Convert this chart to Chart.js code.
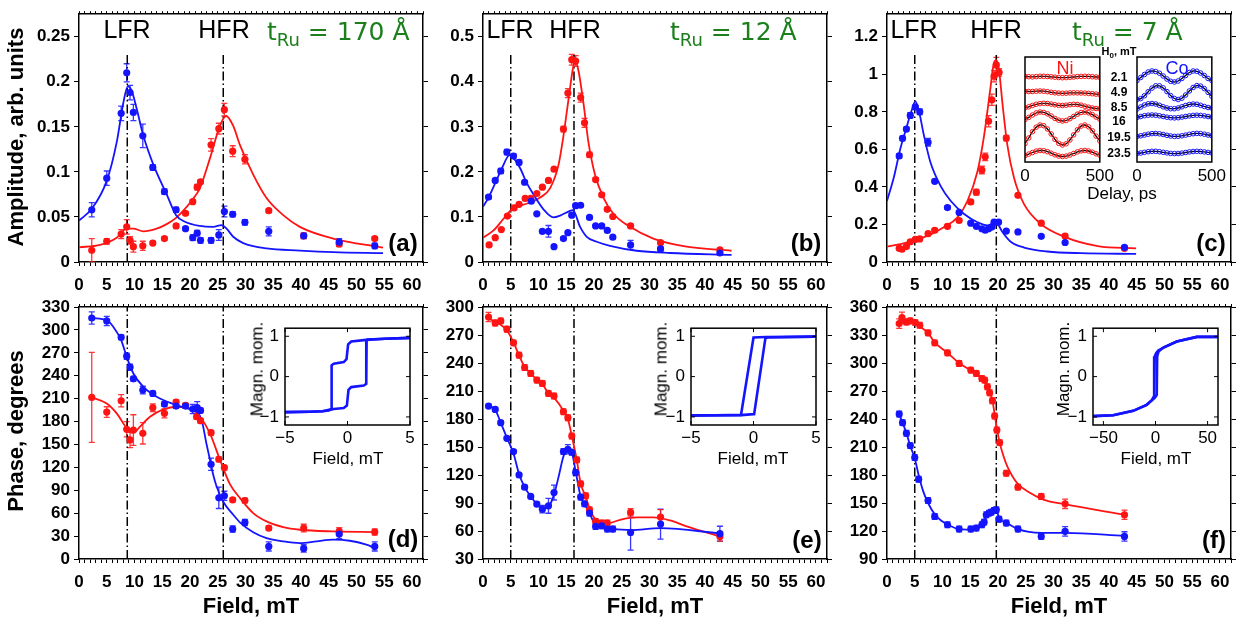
<!DOCTYPE html>
<html><head><meta charset="utf-8">
<script src="https://cdn.jsdelivr.net/npm/chart.js@4.4.1/dist/chart.umd.min.js"></script>
<style>
body{margin:0;background:#fff;width:1242px;height:625px;overflow:hidden;position:relative;font-family:'Liberation Sans',Arial,sans-serif}
canvas{position:absolute}
.t{position:absolute;white-space:nowrap;line-height:1;transform:translate(-50%,-50%);color:#000}
</style></head><body>
<script>
// ---------------- DATA ----------------
// Panel (a) t_Ru = 170 A : amplitude
const aField = [2.3,5.0,7.6,8.6,9.2,9.8,11.5,13.3,15.4,17.5,19.2,20.5,21.3,21.9,23.8,25.2,26.2,27.7,29.9,34.2,40.5,46.9,53.3];
const aCo = [0.058,0.093,0.165,0.210,0.188,0.166,0.140,0.105,0.078,0.058,0.037,0.027,0.032,0.024,0.024,0.030,0.056,0.053,0.044,0.034,0.029,0.022,0.018];
const aCoErr = [0.008,0.008,0.008,0.010,0.008,0.009,0.013,0.003,0.003,0.003,0.002,0.003,0.003,0.003,0.003,0.006,0.006,0.003,0.003,0.005,0.003,0.004,0.003];
const aNi = [0.013,0.023,0.031,0.039,0.024,0.017,0.018,0.021,0.026,0.040,0.054,0.067,0.083,0.089,0.130,0.148,0.169,0.123,0.114,0.057,0.029,0.020,0.026];
const aNiErr = [0.013,0.003,0.005,0.008,0.004,0.006,0.005,0.002,0.002,0.002,0.002,0.002,0.003,0.002,0.007,0.006,0.007,0.006,0.005,0.002,0.003,0.003,0.002];
const aFitCoX = [0,2.3,5.0,6.8,8.0,8.8,9.5,10.4,11.6,13.4,15.8,17.5,19.0,21.8,24.2,25.7,26.6,27.8,29.6,33.8,39.8,45.8,54.8];
const aFitCoY = [0.046,0.059,0.090,0.133,0.177,0.195,0.190,0.170,0.140,0.108,0.075,0.052,0.045,0.040,0.039,0.041,0.037,0.028,0.021,0.015,0.0127,0.011,0.0098];
const aFitNiX = [0,3.8,6.8,8.6,9.8,11.6,14.0,15.8,17.5,18.8,20.3,21.8,23.6,25.4,26.5,27.8,29.0,31.4,33.8,36.8,39.8,45.8,54.8];
const aFitNiY = [0.0163,0.019,0.027,0.037,0.037,0.034,0.037,0.042,0.049,0.057,0.068,0.082,0.115,0.151,0.162,0.151,0.130,0.097,0.071,0.052,0.039,0.026,0.016];
const aLines = [8.7, 26.0];

// Panel (b) t_Ru = 12 A : amplitude
const bCoField = [1.0,2.2,3.2,4.3,5.5,6.5,7.5,8.7,9.7,10.7,11.8,12.8,14.5,15.3,16.0,16.7,17.6,19.2,20.3,21.4,22.4,23.4,26.6,32.0,42.7];
const bCo = [0.144,0.181,0.202,0.244,0.235,0.221,0.177,0.135,0.107,0.068,0.068,0.034,0.052,0.065,0.104,0.125,0.126,0.099,0.080,0.080,0.070,0.055,0.038,0.029,0.020];
const bCoErr = [0.004,0.004,0.006,0.006,0.005,0.005,0.004,0.003,0.003,0.004,0.013,0.003,0.003,0.003,0.004,0.004,0.003,0.003,0.003,0.003,0.003,0.003,0.010,0.005,0.003];
const bNiField = [1.1,2.2,3.3,4.4,5.6,6.5,7.6,8.6,9.7,10.7,11.8,12.8,14.5,15.3,16.0,16.7,17.6,18.3,19.2,20.3,21.4,22.4,23.4,26.6,32.0,42.7];
const bNi = [0.038,0.054,0.072,0.102,0.120,0.128,0.141,0.141,0.152,0.166,0.181,0.206,0.295,0.375,0.449,0.446,0.365,0.309,0.238,0.183,0.149,0.117,0.101,0.080,0.043,0.027];
const bNiErr = [0.002,0.002,0.002,0.003,0.003,0.003,0.003,0.003,0.003,0.003,0.003,0.004,0.006,0.010,0.012,0.012,0.010,0.010,0.006,0.004,0.004,0.004,0.003,0.004,0.003,0.003];
const bFitCoX = [0,1.0,2.2,3.4,4.8,5.8,6.7,7.9,9.1,10.9,12.7,13.9,15.4,16.2,17.5,18.7,20.5,22.9,27.7,33.7,44.8];
const bFitCoY = [0.123,0.143,0.175,0.208,0.237,0.226,0.208,0.175,0.150,0.117,0.099,0.103,0.112,0.115,0.078,0.056,0.045,0.036,0.025,0.020,0.016];
const bFitNiX = [0,1.9,3.7,5.2,6.7,8.5,10.3,12.1,13.6,14.5,15.4,16.2,16.6,17.2,18.1,19.0,20.2,21.7,23.5,26.5,30.7,36.7,44.8];
const bFitNiY = [0.054,0.070,0.096,0.117,0.125,0.132,0.143,0.164,0.215,0.280,0.360,0.429,0.447,0.425,0.353,0.266,0.193,0.143,0.107,0.078,0.052,0.034,0.025];
const bLines = [5.0, 16.4];

// Panel (c) t_Ru = 7 A : amplitude
const cCoField = [2.2,2.8,3.5,4.2,5.1,5.9,7.4,8.6,10.9,13.0,15.1,16.1,17.1,17.7,18.3,18.9,19.3,20.1,21.5,23.6,27.8,32.1,42.8];
const cCo = [0.565,0.659,0.708,0.781,0.826,0.800,0.638,0.430,0.290,0.264,0.207,0.190,0.177,0.169,0.177,0.186,0.212,0.212,0.165,0.160,0.137,0.104,0.078];
const cCoErr = [0.012,0.012,0.010,0.015,0.010,0.015,0.020,0.010,0.010,0.008,0.008,0.006,0.006,0.006,0.006,0.006,0.010,0.008,0.006,0.006,0.006,0.006,0.006];
const cNiField = [2.2,2.7,3.5,4.2,5.1,5.9,7.4,8.6,10.9,13.0,15.1,16.1,17.1,17.7,18.3,18.9,19.3,19.7,20.2,21.5,23.6,27.8,32.1,42.8];
const cNi = [0.073,0.068,0.082,0.108,0.120,0.123,0.151,0.169,0.190,0.221,0.320,0.372,0.490,0.560,0.750,0.864,0.990,1.050,1.010,0.660,0.355,0.207,0.138,0.073];
const cNiErr = [0.010,0.010,0.008,0.008,0.008,0.008,0.010,0.010,0.010,0.010,0.010,0.015,0.020,0.020,0.030,0.030,0.030,0.040,0.020,0.015,0.010,0.010,0.010,0.008];
const cFitCoX = [0,1.2,2.4,3.6,4.5,5.1,5.7,6.6,7.8,9.7,11.5,13.9,16.3,18.1,19.3,19.9,20.8,22.3,24.7,28.9,35.0,44.9];
const cFitCoY = [0.325,0.447,0.603,0.725,0.812,0.856,0.812,0.682,0.534,0.403,0.325,0.256,0.212,0.195,0.207,0.203,0.160,0.108,0.077,0.056,0.047,0.043];
const cFitNiX = [0,3.0,5.4,7.8,10.3,12.7,14.5,16.3,17.5,18.6,19.3,19.7,20.2,20.8,21.7,22.9,24.7,27.7,32.0,38.0,44.9];
const cFitNiY = [0.082,0.099,0.120,0.146,0.186,0.238,0.325,0.482,0.673,0.917,1.064,1.075,1.020,0.847,0.621,0.447,0.308,0.203,0.134,0.085,0.073];
const cLines = [5.0, 19.7];

// Panel (d) t_Ru = 170 A : phase
const dCoField = [2.3,5.0,7.6,8.6,9.2,9.8,11.5,13.3,15.4,17.5,19.2,20.5,21.3,21.9,23.8,25.2,26.2,27.7,29.9,34.2,40.5,46.9,53.3];
const dCo = [315.6,311.7,290.4,265.6,251.2,236.0,221.2,216.8,202.9,200.3,200.3,196.3,198.1,194.6,124.1,80.1,82.7,39.2,47.9,16.5,13.9,32.7,16.5];
const dCoErr = [8,6,3,4,4,3,5,3,3,3,3,6,8,3,8,14,6,4,4,6,5,6,6];
const dNiField = [2.3,5.0,7.6,8.6,9.2,9.8,11.5,13.3,15.4,17.5,19.2,21.2,21.9,23.8,25.2,26.2,27.7,29.9,34.2,40.5,46.9,53.3];
const dNi = [211.6,192.4,207.2,169.8,155.9,168.9,164.6,198.1,190.7,205.5,201.1,186.3,181.1,165.4,130.6,119.7,77.5,76.6,40.5,40.5,36.1,35.3];
const dNiErr = [59,7,8,10,10,20,14,5,6,3,3,3,3,3,3,3,3,3,3,5,5,4];
const dFitCoX = [2.3,5.0,6.2,7.6,8.6,9.8,11.6,14.0,17.0,19.4,21.2,22.1,23.0,23.6,24.2,24.8,26.0,27.8,29.0,31.4,33.8,36.8,39.8,42.8,45.8,48.8,51.8,53.3];
const dFitCoY = [315.6,312.6,303.9,286.5,264.7,242.9,225.5,212.5,202.9,197.2,192.9,182.0,150.0,130.0,110.0,95.0,75.0,58.0,48.0,35.0,27.4,23.1,20.9,23.1,25.3,23.9,18.7,14.4];
const dFitNiX = [2.3,5.0,6.8,8.0,8.9,9.5,10.2,11.0,12.8,15.2,17.6,20.0,21.8,23.6,25.4,27.2,29.0,31.4,33.8,36.8,39.8,45.8,53.3];
const dFitNiY = [211.6,203.7,190.7,177.6,168.0,165.4,167.0,173.3,186.3,195.9,199.4,197.2,186.3,164.6,130.0,98.0,80.0,60.1,49.2,41.8,38.3,36.1,35.3];

// Panel (e) t_Ru = 12 A : phase
const eNiField = [1.0,2.2,3.2,4.3,5.5,6.5,7.5,8.6,9.7,10.7,11.8,12.8,14.5,15.3,16.0,16.9,17.6,18.5,19.2,20.3,21.4,22.4,26.6,32.0,42.7];
const eNi = [289.3,282.9,285.1,276.2,261.6,248.4,235.2,228.8,221.7,218.1,207.4,204.6,187.8,181.4,161.8,136.2,110.5,97.7,82.7,70.3,68.5,68.5,79.9,74.9,54.2];
const eNiErr = [5,3,3,3,3,3,3,3,3,3,3,3,3,3,3,3,3,3,3,3,3,3,4,8,5];
const eCoField = [1.0,2.2,3.2,4.3,5.5,6.5,7.5,8.6,9.7,10.7,11.8,12.8,14.5,15.3,16.0,16.7,17.6,18.3,19.2,20.3,21.4,22.4,23.4,26.6,32.0,42.7];
const eCo = [193.9,190.3,176.1,159.3,145.1,120.1,107.0,97.0,88.8,83.4,87.0,101.2,145.1,147.6,144.4,122.6,96.3,89.1,79.2,64.9,65.6,62.1,62.1,58.5,67.4,57.1];
const eCoErr = [2,2,2,2,2,2,2,2,2,4,8,8,3,5,3,3,3,3,3,3,3,3,3,19,16,8];
const eFitNiX = [1.0,2.2,3.2,4.3,5.5,6.5,7.5,8.6,9.7,10.7,11.8,12.8,14.5,15.3,16.0,16.9,17.6,18.5,19.2,20.3,21.4,22.4,24.7,27.7,30.7,33.7,36.7,42.7];
const eFitNiY = [288,284,281,275,262,248,236,229,222,217,208,203,189,180,162,136,111,97,84,72,68,68,72,74.5,74.5,71.3,65,54];
const eFitCoX = [1.0,2.2,3.2,4.3,5.5,6.5,7.5,8.6,9.7,10.7,11.8,12.8,13.7,14.5,15.3,16.0,16.7,17.6,18.3,19.2,20.3,21.4,22.4,23.4,26.6,32.0,42.7];
const eFitCoY = [194,190,176,160,143,121,107,97,89,84,86,99,120,140,147,144,124,97,89,79,66,64,62,62,61,63,57.5];

// Panel (f) t_Ru = 7 A : phase
const fNiField = [2.2,2.7,3.5,4.2,5.1,5.9,7.4,8.6,10.9,13.0,15.1,16.1,17.1,17.6,18.1,18.5,19.0,19.4,19.8,20.3,21.5,23.6,27.8,32.1,42.8];
const fNi = [342.2,348.6,344.0,345.1,343.3,340.4,332.3,321.6,310.9,299.5,292.4,288.8,283.4,281.6,274.5,268.1,259.6,243.2,228.2,214.7,181.9,167.0,157.0,149.1,137.4];
const fNiErr = [5,6,3,3,3,3,3,3,3,3,3,3,3,3,3,3,3,3,3,3,3,3,3,5,5];
const fCoField = [2.2,2.8,3.5,4.2,5.0,5.7,7.4,8.6,10.9,13.0,15.1,16.1,17.1,17.5,17.9,18.4,18.8,19.3,19.7,20.2,21.5,23.6,27.8,32.1,42.8];
const fCo = [245.3,236.1,224.7,211.5,198.7,175.5,152.7,135.6,126.7,122.1,122.1,123.1,126.7,129.5,137.4,139.2,140.2,142.0,142.7,132.7,128.5,122.1,114.2,119.6,114.2];
const fCoErr = [3,3,3,3,3,3,3,3,3,3,3,3,3,3,3,3,3,3,3,3,3,3,3,5,5];
const fFitNiX = [2.2,3.5,5.1,5.9,7.4,8.6,10.9,13.0,15.1,16.1,17.1,18.1,19.0,19.4,19.8,20.3,21.0,21.7,23.5,25.9,28.3,32.0,42.8];
const fFitNiY = [343,344,342,339,332,322,311,300,292,288,283,275,260,245,230,215,200,189,171,160.5,153.4,148.8,137.4];
const fFitCoX = [2.2,3.5,4.2,5.0,5.7,6.5,7.4,8.6,9.8,10.9,13.0,15.1,16.1,17.1,17.9,18.8,19.7,20.2,21.5,23.6,27.8,32.1,42.8];
const fFitCoY = [245,225,211,198,180,163,150,138,131,127,122,121.5,123,127,135,140,143,134,129,122,118,118,115];

// Hysteresis insets (field mT, normalised moment)
const hysDUpX = [-5,-3,-2,-1.5,-1.3,-1.27,-1.1,-0.3,-0.08,0.05,0.3,1.5,3,5];
const hysDUpY = [-0.88,-0.87,-0.86,-0.84,-0.81,0.28,0.32,0.36,0.43,0.80,0.87,0.91,0.94,0.96];
const hysDDnX = [5,3,1.6,1.53,1.5,1.3,0.3,0.08,-0.05,-0.3,-1.3,-2,-3,-5];
const hysDDnY = [0.96,0.94,0.92,0.90,-0.18,-0.22,-0.26,-0.33,-0.72,-0.78,-0.81,-0.86,-0.87,-0.88];
const hysEUpX = [-5,-1,0,0.05,0.95,1.1,5];
const hysEUpY = [-0.96,-0.955,-0.93,-0.93,0.95,0.97,0.99];
const hysEDnX = [5,1,0,-1.0,-5];
const hysEDnY = [0.99,0.98,0.97,-0.95,-0.97];
const hysFUpX = [-60,-40.7,-21.4,-8.5,-3.7,-0.5,1.2,1.6,2.9,7.6,20.4,39.7,60];
const hysFUpY = [-0.98,-0.96,-0.85,-0.70,-0.59,-0.52,-0.45,0.50,0.62,0.72,0.87,0.985,0.985];
const hysFDnX = [60,39.7,20.4,7.6,2.7,0.6,-0.8,-1.3,-3.7,-8.5,-21.4,-40.7,-60];
const hysFDnY = [0.985,0.985,0.87,0.72,0.65,0.58,0.50,-0.48,-0.59,-0.70,-0.85,-0.96,-0.98];

// Time traces inset in (c): delay (ps) and signal (arb.)
const traceTime = [0,25,50,75,100,125,150,175,200,225,250,275,300,325,350,375,400,425,450,475,500];
const traceFields = ['2.1','4.9','8.5','16','19.5','23.5'];
const niBase = [8.5,6.95,5.6,4.55,2.7,0.85];
const coBase = [8.55,6.95,5.55,4.55,2.7,0.95];
const ni21 = [0.05,0.03,0.01,0.04,0.07,0.07,0.05,0.02,-0.02,-0.05,-0.07,-0.06,-0.03,0.0,0.04,0.06,0.07,0.06,0.03,0.0,-0.03];
const ni49 = [0.12,0.10,0.10,0.13,0.15,0.13,0.08,0.02,-0.03,-0.06,-0.08,-0.07,-0.04,-0.03,-0.04,-0.05,-0.06,-0.09,-0.12,-0.16,-0.19];
const ni85 = [-0.18,-0.08,0.06,0.17,0.24,0.27,0.25,0.19,0.12,0.07,0.05,0.08,0.13,0.17,0.15,0.08,-0.02,-0.12,-0.20,-0.25,-0.28];
const ni16 = [-0.30,-0.09,0.15,0.35,0.45,0.41,0.27,0.05,-0.19,-0.37,-0.45,-0.40,-0.22,0.0,0.23,0.40,0.45,0.37,0.19,-0.05,-0.27];
const ni195 = [-0.85,-0.30,0.33,0.78,1.0,0.93,0.60,0.10,-0.43,-0.83,-1.0,-0.88,-0.50,0.01,0.52,0.89,1.0,0.82,0.42,-0.11,-0.60];
const ni235 = [-0.22,-0.06,0.10,0.24,0.30,0.28,0.18,0.03,-0.13,-0.25,-0.30,-0.26,-0.15,0.0,0.16,0.27,0.30,0.25,0.13,-0.03,-0.18];
const co21 = [-0.40,-0.10,0.20,0.45,0.55,0.50,0.33,0.05,-0.25,-0.48,-0.55,-0.45,-0.20,0.10,0.40,0.55,0.52,0.35,0.10,-0.20,-0.40];
const co49 = [-0.70,-0.61,-0.32,0.08,0.44,0.67,0.67,0.46,0.09,-0.31,-0.60,-0.70,-0.57,-0.25,0.15,0.50,0.69,0.64,0.39,0.01,-0.37];
const co85 = [-0.25,-0.05,0.15,0.27,0.30,0.25,0.12,-0.03,-0.15,-0.22,-0.22,-0.15,-0.03,0.10,0.20,0.25,0.22,0.12,0.0,-0.10,-0.15];
const co16 = [-0.10,0.0,0.08,0.13,0.15,0.13,0.07,0.0,-0.07,-0.12,-0.14,-0.12,-0.06,0.0,0.06,0.11,0.13,0.11,0.06,0.0,-0.06];
const co195 = [-0.15,-0.08,0.0,0.08,0.14,0.15,0.12,0.05,-0.03,-0.10,-0.14,-0.13,-0.08,-0.01,0.07,0.13,0.16,0.14,0.08,0.0,-0.07];
const co235 = [-0.10,-0.05,0.02,0.08,0.12,0.12,0.08,0.02,-0.04,-0.09,-0.11,-0.10,-0.06,0.0,0.06,0.10,0.12,0.10,0.06,0.01,-0.04];

// ---------------- DRAWING ----------------
const CO = '#1414ff', NI = '#ff1414', GREEN = '#1b7f1b';
const FAM = "'Liberation Sans', Arial, sans-serif";
Chart.defaults.font.family = FAM;
const tickFont = {family: FAM, size: 17, weight: 'bold'};
const insetFont = {family: FAM, size: 17, weight: 'normal'};

const errPlugin = {
  id: 'errbars',
  beforeDatasetsDraw(chart) {
    const ctx = chart.ctx, a = chart.chartArea;
    ctx.save();
    ctx.beginPath(); ctx.rect(a.left, a.top, a.right - a.left, a.bottom - a.top); ctx.clip();
    chart.data.datasets.forEach((ds, i) => {
      if (!ds.errors) return;
      const meta = chart.getDatasetMeta(i);
      const ys = chart.scales.y;
      ctx.strokeStyle = ds.pointBackgroundColor; ctx.globalAlpha = 0.85; ctx.lineWidth = 1.3;
      meta.data.forEach((pt, j) => {
        const e = ds.errors[j]; if (!e) return;
        const v = ds.data[j].y;
        const y1 = ys.getPixelForValue(v - e), y2 = ys.getPixelForValue(v + e);
        ctx.beginPath();
        ctx.moveTo(pt.x, y1); ctx.lineTo(pt.x, y2);
        ctx.moveTo(pt.x - 3, y1); ctx.lineTo(pt.x + 3, y1);
        ctx.moveTo(pt.x - 3, y2); ctx.lineTo(pt.x + 3, y2);
        ctx.stroke();
      });
    });
    ctx.restore();
  }
};
function framePlugin(withTicks) {
  return {
    id: 'frame',
    afterDraw(chart) {
      const a = chart.chartArea, c = chart.ctx;
      c.save(); c.strokeStyle = '#000'; c.lineWidth = 1.5;
      c.strokeRect(a.left, a.top, a.right - a.left, a.bottom - a.top);
      if (withTicks) {
        c.lineWidth = 1;
        const xs = chart.scales.x, ys = chart.scales.y;
        xs.ticks.forEach(t => { const p = xs.getPixelForValue(t.value);
          c.beginPath(); c.moveTo(p, a.bottom); c.lineTo(p, a.bottom - 4); c.moveTo(p, a.top); c.lineTo(p, a.top + 4); c.stroke(); });
        ys.ticks.forEach(t => { const p = ys.getPixelForValue(t.value);
          c.beginPath(); c.moveTo(a.left, p); c.lineTo(a.left + 4, p); c.moveTo(a.right, p); c.lineTo(a.right - 4, p); c.stroke(); });
      }
      c.restore();
    }
  };
}

function makeCanvas(b) {
  const c = document.createElement('canvas');
  c.width = b.w; c.height = b.h;
  c.style.left = b.l + 'px'; c.style.top = b.t + 'px';
  c.style.width = b.w + 'px'; c.style.height = b.h + 'px';
  document.body.appendChild(c);
  return c;
}
const xy = (xs, ys) => xs.map((x, i) => ({x: x, y: ys[i]}));
function pts(xs, ys, errs, color) {
  return {data: xy(xs, ys), errors: errs, showLine: false, pointRadius: 3.6, pointBackgroundColor: color,
          pointBorderWidth: 0, borderColor: color, order: 0};
}
function fit(xs, ys, color) {
  return {data: xy(xs, ys), showLine: true, pointRadius: 0, borderColor: color, borderWidth: 1.8,
          cubicInterpolationMode: 'monotone', order: 1};
}
function vline(x, y0, y1) {
  return {data: [{x: x, y: y0}, {x: x, y: y1}], showLine: true, pointRadius: 0, borderColor: '#000',
          borderWidth: 1.5, borderDash: [9, 3, 1.5, 3], order: 2};
}
function fmt(v) { return String(Math.round(v * 1000) / 1000); }

function mainPanel(box, area, yr, sets) {
  const cv = makeCanvas(box);
  const leftW = area.l - box.l, rightW = box.l + box.w - area.r, topH = area.t - box.t, botH = box.t + box.h - area.b;
  const border = {display: true, color: '#000', width: 1.5};
  const grid = len => ({drawOnChartArea: false, drawTicks: true, tickLength: len, color: '#000', tickColor: '#000', lineWidth: 1});
  const ycb = v => Math.abs((v - yr.min) / yr.step - Math.round((v - yr.min) / yr.step)) < 1e-6 ? fmt(v) : null;
  new Chart(cv, {
    type: 'scatter', data: {datasets: sets}, plugins: [errPlugin],
    options: {
      responsive: false, animation: false, devicePixelRatio: 1, layout: {padding: 0},
      plugins: {legend: {display: false}, tooltip: {enabled: false}},
      scales: {
        x: {type: 'linear', position: 'bottom', min: 0, max: 62,
            ticks: {stepSize: 1, autoSkip: false, maxRotation: 0, minRotation: 0, font: tickFont, color: '#000', padding: 9,
                    callback: v => (v % 5 === 0 ? String(v) : '')},
            grid: grid(4), border: border, afterFit: s => { s.height = botH; }},
        x2: {type: 'linear', position: 'top', min: 0, max: 62,
            ticks: {stepSize: 1, autoSkip: false, display: false},
            grid: grid(3), border: border, afterFit: s => { s.height = topH; }},
        y: {type: 'linear', position: 'left', min: yr.min, max: yr.max,
            ticks: {stepSize: yr.step, autoSkip: false, font: tickFont, color: '#000', padding: 4, callback: ycb},
            grid: grid(5), border: border, afterFit: s => { s.width = leftW; }},
        y2: {type: 'linear', position: 'right', min: yr.min, max: yr.max,
            ticks: {stepSize: yr.step, autoSkip: false, display: false, callback: ycb},
            grid: grid(5), border: border, afterFit: s => { s.width = rightW; }}
      }
    }
  });
}

function panelSets(coX, coY, coE, niX, niY, niE, fcX, fcY, fnX, fnY, lines, y0, y1) {
  return [pts(coX, coY, coE, CO), pts(niX, niY, niE, NI), fit(fcX, fcY, CO), fit(fnX, fnY, NI),
          vline(lines[0], y0, y1), vline(lines[1], y0, y1)];
}

const vTop = 0.838;
mainPanel({l: 0, t: 0, w: 440, h: 300}, {l: 79, r: 423, t: 9, b: 262}, {min: 0, max: 0.275, step: 0.05},
  panelSets(aField, aCo, aCoErr, aField, aNi, aNiErr, aFitCoX, aFitCoY, aFitNiX, aFitNiY, aLines, 0, 0.275 * vTop));
mainPanel({l: 440, t: 0, w: 405, h: 300}, {l: 483, r: 827, t: 9, b: 262}, {min: 0, max: 0.55, step: 0.1},
  panelSets(bCoField, bCo, bCoErr, bNiField, bNi, bNiErr, bFitCoX, bFitCoY, bFitNiX, bFitNiY, bLines, 0, 0.55 * vTop));
mainPanel({l: 845, t: 0, w: 397, h: 300}, {l: 887, r: 1231, t: 9, b: 262}, {min: 0, max: 1.32, step: 0.2},
  panelSets(cCoField, cCo, cCoErr, cNiField, cNi, cNiErr, cFitCoX, cFitCoY, cFitNiX, cFitNiY, cLines, 0, 1.32 * vTop));
mainPanel({l: 0, t: 290, w: 440, h: 335}, {l: 79, r: 423, t: 307, b: 559}, {min: 0, max: 330, step: 30},
  panelSets(dCoField, dCo, dCoErr, dNiField, dNi, dNiErr, dFitCoX, dFitCoY, dFitNiX, dFitNiY, aLines, 0, 330));
mainPanel({l: 440, t: 290, w: 405, h: 335}, {l: 483, r: 827, t: 307, b: 559}, {min: 30, max: 300, step: 30},
  panelSets(eCoField, eCo, eCoErr, eNiField, eNi, eNiErr, eFitCoX, eFitCoY, eFitNiX, eFitNiY, bLines, 30, 300));
mainPanel({l: 845, t: 290, w: 397, h: 335}, {l: 887, r: 1231, t: 307, b: 559}, {min: 90, max: 360, step: 30},
  panelSets(fCoField, fCo, fCoErr, fNiField, fNi, fNiErr, fFitCoX, fFitCoY, fFitNiX, fFitNiY, cLines, 90, 360));

// ---- hysteresis insets
const minus = v => (v < 0 ? '\u2212' + Math.abs(v) : String(v));
function hysInset(box, area, xr, xt, upX, upY, dnX, dnY) {
  const cv = makeCanvas(box);
  const line = (xs, ys) => ({data: xy(xs, ys), showLine: true, pointRadius: 0, borderColor: CO, borderWidth: 2.6, tension: 0});
  new Chart(cv, {
    type: 'scatter', data: {datasets: [line(upX, upY), line(dnX, dnY)]}, plugins: [framePlugin(true)],
    options: {
      responsive: false, animation: false, devicePixelRatio: 1,
      layout: {padding: {left: 0, top: area.t - box.t, right: box.l + box.w - area.r, bottom: 0}},
      plugins: {legend: {display: false}, tooltip: {enabled: false}},
      scales: {
        x: {type: 'linear', min: xr[0], max: xr[1], afterBuildTicks: s => { s.ticks = xt.map(v => ({value: v})); },
            ticks: {font: insetFont, color: '#000', padding: 3, callback: minus, maxRotation: 0},
            grid: {display: false, drawTicks: false}, border: {display: false},
            afterFit: s => { s.height = box.t + box.h - area.b; }},
        y: {type: 'linear', min: -1.2, max: 1.2, afterBuildTicks: s => { s.ticks = [-1, 0, 1].map(v => ({value: v})); },
            ticks: {font: insetFont, color: '#000', padding: 6, callback: minus},
            grid: {display: false, drawTicks: false}, border: {display: false},
            afterFit: s => { s.width = area.l - box.l; }}
      }
    }
  });
}
hysInset({l: 255, t: 312, w: 165, h: 140}, {l: 285, r: 410, t: 319, b: 425}, [-5, 5], [-5, 0, 5], hysDUpX, hysDUpY, hysDDnX, hysDDnY);
hysInset({l: 660, t: 312, w: 165, h: 140}, {l: 691, r: 816, t: 319, b: 425}, [-5, 5], [-5, 0, 5], hysEUpX, hysEUpY, hysEDnX, hysEDnY);
hysInset({l: 1063, t: 312, w: 165, h: 140}, {l: 1093, r: 1218, t: 319, b: 425}, [-60, 60], [-50, 0, 50], hysFUpX, hysFUpY, hysFDnX, hysFDnY);

// ---- time-trace insets in (c)
function traceInset(box, area, traces, base, color) {
  const cv = makeCanvas(box);
  const sets = traces.map((tr, i) => ({
    data: traceTime.map((t, j) => ({x: t, y: base[i] + tr[j]})),
    showLine: true, tension: 0.4, borderColor: '#000', borderWidth: 1.3,
    pointRadius: 2.3, pointBorderColor: color, pointBorderWidth: 1, pointBackgroundColor: 'rgba(0,0,0,0)'
  }));
  new Chart(cv, {
    type: 'scatter', data: {datasets: sets}, plugins: [framePlugin(false)],
    options: {
      responsive: false, animation: false, devicePixelRatio: 1,
      layout: {padding: {left: area.l - box.l, top: area.t - box.t, right: box.l + box.w - area.r, bottom: 0}},
      plugins: {legend: {display: false}, tooltip: {enabled: false}},
      scales: {
        x: {type: 'linear', min: 0, max: 500, afterBuildTicks: s => { s.ticks = [0, 500].map(v => ({value: v})); },
            ticks: {font: insetFont, color: '#000', padding: 4, maxRotation: 0},
            grid: {display: false, drawTicks: false}, border: {display: false},
            afterFit: s => { s.height = box.t + box.h - area.b; }},
        y: {type: 'linear', min: 0, max: 10.5, display: false}
      }
    }
  });
}
traceInset({l: 1013, t: 50, w: 105, h: 140}, {l: 1025, r: 1103, t: 57, b: 162}, [ni21, ni49, ni85, ni16, ni195, ni235], niBase, NI);
traceInset({l: 1125, t: 50, w: 105, h: 140}, {l: 1137, r: 1215, t: 57, b: 162}, [co21, co49, co85, co16, co195, co235], coBase, CO);

// ---------------- TEXT ----------------
function txt(html, x, y, style, rot) {
  const d = document.createElement('div');
  d.className = 't';
  d.innerHTML = html;
  d.style.cssText = 'left:' + x + 'px;top:' + y + 'px;' + (style || '');
  if (rot) d.style.transform = 'translate(-50%,-50%) rotate(-90deg)';
  document.body.appendChild(d);
}
const B22 = 'font-size:22px;font-weight:bold;';
txt('Amplitude, arb. units', 16, 137, B22, true);
txt('Phase, degrees', 16, 431, B22, true);
[251, 655, 1059].forEach(x => txt('Field, mT', x, 606, B22));
const LF = 'font-size:25px;';
[[127, 224], [510, 575], [914, 996]].forEach(p => { txt('LFR', p[0], 29, LF); txt('HFR', p[1], 29, LF); });
const TR = "font-family:'DejaVu Sans',sans-serif;font-size:25px;color:" + GREEN + ";transform:translate(0,-50%);";
const sub = '<span style="font-size:18px;position:relative;top:6px">Ru</span>';
txt('t' + sub + ' = 170 Å', 267, 31, TR);
txt('t' + sub + ' = 12 Å', 670, 31, TR);
txt('t' + sub + ' = 7 Å', 1072, 31, TR);
const PL = 'font-size:24px;font-weight:bold;';
txt('(a)', 403, 243, PL); txt('(b)', 806, 243, PL); txt('(c)', 1211, 243, PL);
txt('(d)', 403, 539, PL); txt('(e)', 807, 540, PL); txt('(f)', 1214, 540, PL);
// inset labels
const IN = 'font-size:17px;';
[257, 661, 1063].forEach(x => txt('Magn. mom.', x, 369, IN, true));
[348, 753, 1156].forEach(x => txt('Field, mT', x, 458, IN));
txt('Delay, ps', 1122, 193, IN);
txt('Ni', 1065, 68, 'font-size:18px;color:' + NI + ';');
txt('Co', 1177, 68, 'font-size:18px;color:' + CO + ';');
txt('H<span style="font-size:8px;position:relative;top:3px">0</span>, mT', 1119, 51, 'font-size:11px;font-weight:bold;');
const traceY = [77, 92, 107, 121, 137, 153];
traceFields.forEach((f, i) => txt(f, 1119, traceY[i], 'font-size:12px;font-weight:bold;'));
</script>
</body></html>
